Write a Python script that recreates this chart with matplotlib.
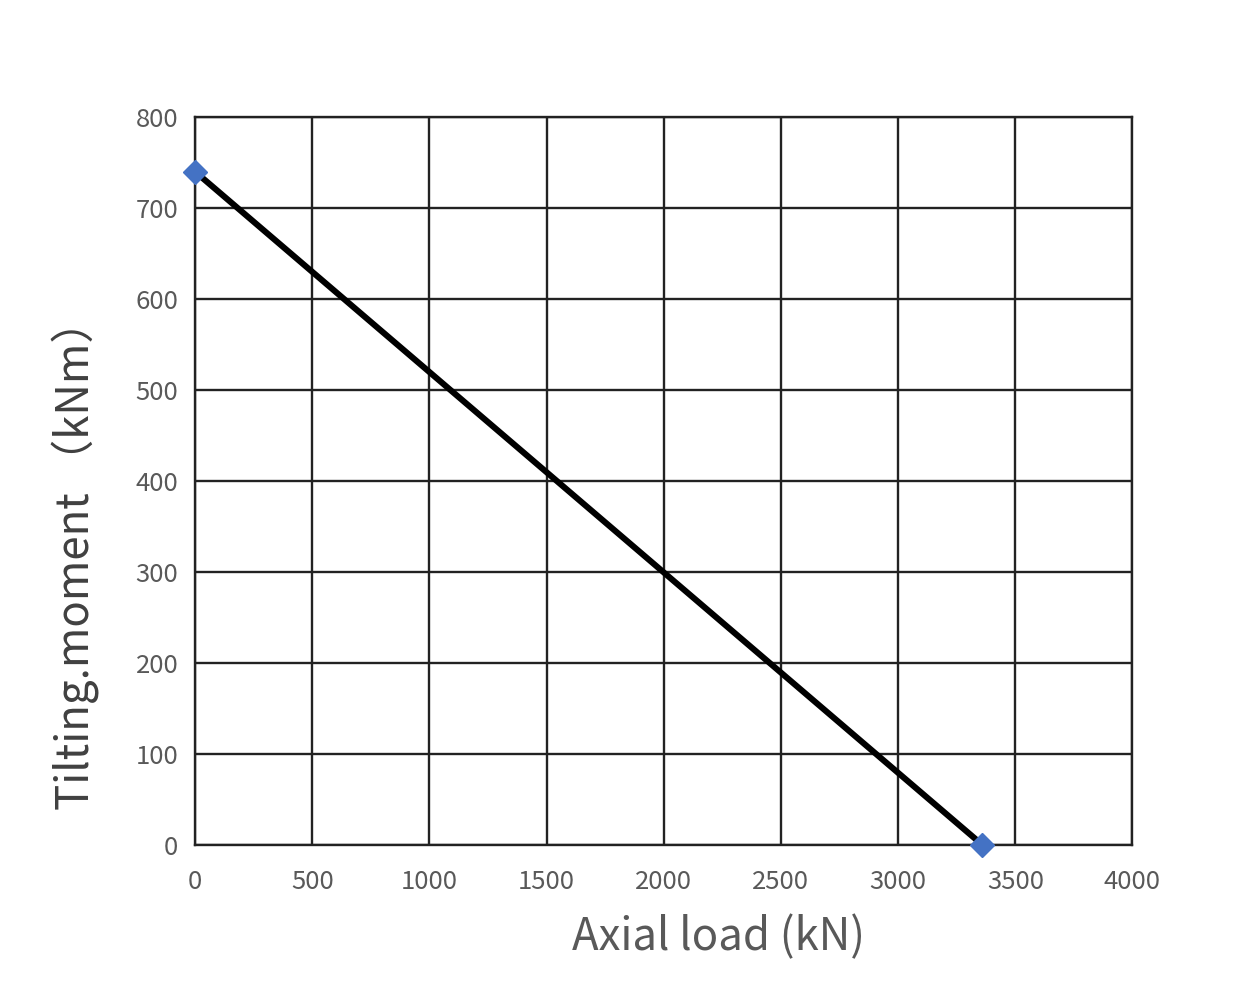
import matplotlib
matplotlib.use("Agg")
import matplotlib.pyplot as plt

# Load curve endpoints
axial_load = [0, 3360]        # kN
tilting_moment = [740, 0]     # kNm

x_ticks = [0, 500, 1000, 1500, 2000, 2500, 3000, 3500, 4000]
y_ticks = [0, 100, 200, 300, 400, 500, 600, 700, 800]

plt.rcParams["font.family"] = ["Noto Sans CJK SC", "DejaVu Sans"]

fig = plt.figure(figsize=(12.6, 9.9), dpi=100)
ax = fig.add_axes([0.1548, 0.1465, 0.744, 0.7353])

ax.plot(axial_load, tilting_moment, color="black", lw=4.4, zorder=3)
ax.plot(axial_load, tilting_moment, ls="none", marker="D", ms=12,
        color="#4472C4", markeredgecolor="#4472C4", zorder=4, clip_on=False)

ax.set_xlim(0, 4000)
ax.set_ylim(0, 800)
ax.set_xticks(x_ticks)
ax.set_yticks(y_ticks)
ax.grid(True, color="#222222", lw=1.7)
ax.set_axisbelow(True)
for sp in ax.spines.values():
    sp.set_color("#222222")
    sp.set_linewidth(1.7)

ax.tick_params(length=0, labelsize=18.5, labelcolor="#595959")
ax.tick_params(axis="x", pad=17)
ax.tick_params(axis="y", pad=12)

ax.set_xlabel("Axial load (kN)", fontsize=31.5, color="#595959")
ax.xaxis.set_label_coords(0.558, -0.095)
ax.set_ylabel("Tilting.moment （kNm）", fontsize=31.5, color="#404040")
ax.yaxis.set_label_coords(-0.102, 0.399)

fig.savefig("out.png", dpi=100, facecolor="white")
